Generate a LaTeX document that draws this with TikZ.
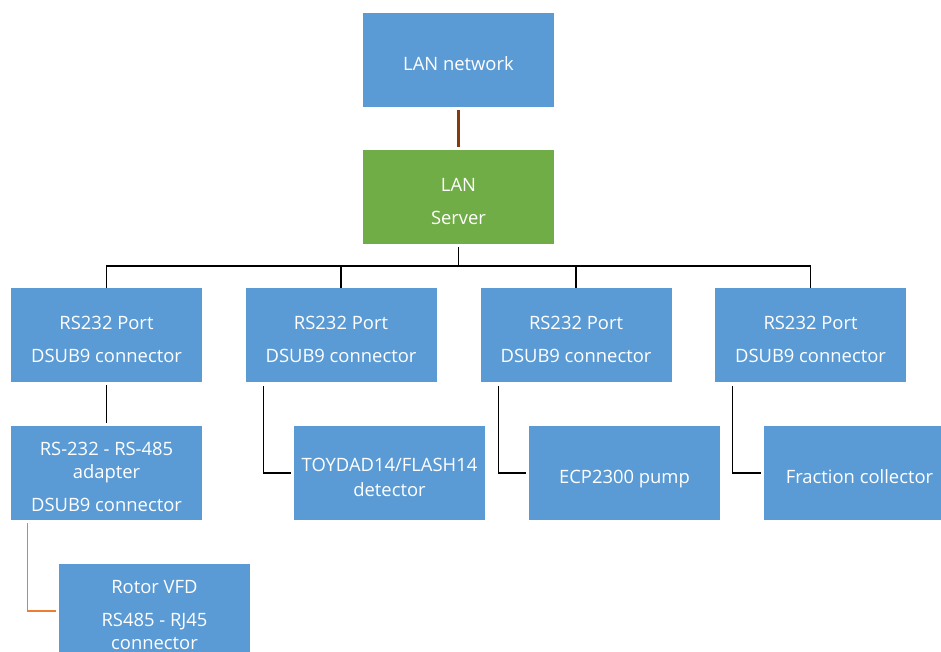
\documentclass[tikz,border=0pt]{standalone}
\usepackage{fontspec}
\setmainfont{Open Sans}
\definecolor{boxblue}{HTML}{5B9BD5}
\definecolor{boxgreen}{HTML}{70AD47}
\definecolor{linkbrown}{HTML}{843C0C}
\definecolor{linkorange}{HTML}{ED7D31}
\begin{document}
\begin{tikzpicture}[x=1pt,y=-1pt,
  box/.style={fill=boxblue, minimum width=191pt, minimum height=94pt, inner sep=0pt},
  boxtext/.style={text=white, align=center, inner sep=0pt, yshift=-4pt,
    font=\fontsize{18.4}{23}\selectfont},
  wire/.style={draw=black, line width=1.3pt},
  gap/.style={shorten <=3pt, shorten >=3pt}]
\useasboundingbox (0,0) rectangle (941,651);
\fill[white] (0,0) rectangle (941,651);
\node[box, label={[boxtext]center:{LAN network}}] (lan) at (458.5,60) {};
\node[box, fill=boxgreen, label={[boxtext]center:{LAN\\[10pt]Server}}] (srv) at (458.5,197) {};
\node[box, label={[boxtext]center:{RS232 Port\\[10pt]DSUB9 connector}}] (p1) at (106.5,335) {};
\node[box, label={[boxtext]center:{RS232 Port\\[10pt]DSUB9 connector}}] (p2) at (341,335) {};
\node[box, label={[boxtext]center:{RS232 Port\\[10pt]DSUB9 connector}}] (p3) at (576,335) {};
\node[box, label={[boxtext]center:{RS232 Port\\[10pt]DSUB9 connector}}] (p4) at (810.5,335) {};
\node[box, label={[boxtext]center:{RS-232 - RS-485\\adapter\\[10pt]DSUB9 connector}}] (ad) at (106.5,473) {};
\node[box, label={[boxtext]center:{TOYDAD14/FLASH14\\[2pt]detector}}] (det) at (389.5,473) {};
\node[box, label={[boxtext,yshift=-2pt]center:{ECP2300 pump}}] (pump) at (624.5,473) {};
\node[box, label={[boxtext]center:{Fraction collector}}] (frac) at (859.5,473) {};
\node[box, label={[boxtext]center:{Rotor VFD\\[10pt]RS485 - RJ45\\connector}}] (rot) at (154.5,611) {};
\draw[draw=linkbrown, line width=2.5pt, gap] (lan.south) -- (srv.north);
\coordinate (bus) at (458.5,266);
\draw[wire, shorten <=3pt] (srv.south) -- (bus);
\draw[wire] (p1.north) |- (bus);
\draw[wire] (p2.north) |- (bus);
\draw[wire] (p3.north) |- (bus);
\draw[wire] (p4.north) |- (bus);
\draw[wire, gap] (p1.south) -- (ad.north);
\draw[wire, shorten <=4pt, shorten >=3pt] ([xshift=18pt]p2.south west) |- (det.west);
\draw[wire, shorten <=4pt, shorten >=3pt] ([xshift=18pt]p3.south west) |- (pump.west);
\draw[wire, shorten <=4pt, shorten >=3pt] ([xshift=18pt]p4.south west) |- (frac.west);
\draw[draw=linkorange, line width=1.3pt, shorten <=3pt, shorten >=3pt] ([xshift=17pt]ad.south west) |- (rot.west);
\end{tikzpicture}
\end{document}
